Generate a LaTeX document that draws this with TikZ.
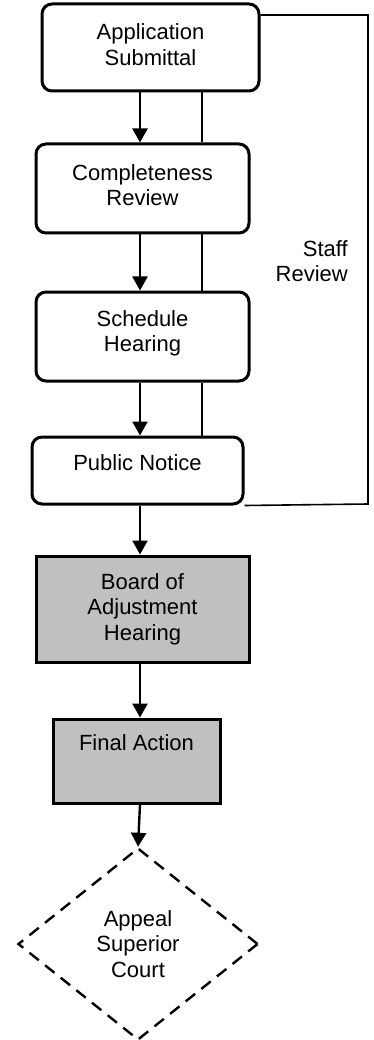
\documentclass[tikz,border=0pt]{standalone}
\usepackage{fontspec}
\setmainfont{Liberation Sans}
\usetikzlibrary{arrows.meta,shapes.geometric}
\definecolor{boxgray}{RGB}{192,192,192}
\begin{document}
\begin{tikzpicture}[x=1pt,y=-1pt,
  every node/.style={font=\fontsize{22pt}{25.5pt}\selectfont, align=center, inner sep=0pt},
  stepbox/.style={draw, line width=3pt, rounded corners=10pt, fill=white},
  boardbox/.style={draw, line width=3pt, fill=boxgray},
  flow/.style={line width=2.4pt, -{Triangle[length=14pt,width=15pt]}},
  loopline/.style={line width=1.6pt},
  appeal/.style={draw, shape=diamond, dash pattern=on 12pt off 8pt, line width=2.4pt,
                 minimum width=240pt, minimum height=192pt}]
\useasboundingbox (0,0) rectangle (374,1040);

% staff review steps
\node[stepbox, minimum width=217pt, minimum height=87pt] (submit) at (150.5,47.5) {Application\\Submittal\\[-27pt]\strut};
\node[stepbox, minimum width=213pt, minimum height=89pt] (complete) at (142.5,188.5) {Completeness\\Review\\[-26.5pt]\strut};
\node[stepbox, minimum width=213pt, minimum height=89pt] (schedule) at (142.5,336.5) {Schedule\\Hearing\\[-22pt]\strut};
\node[stepbox, minimum width=211pt, minimum height=67pt] (notice) at (137.5,470.5) {Public Notice\\[-18pt]\strut};

% board steps
\node[boardbox, minimum width=213pt, minimum height=106pt] (board) at (142.5,609) {Board of\\Adjustment\\Hearing};
\node[boardbox, minimum width=167pt, minimum height=84pt] (final) at (136.5,761) {Final Action\\[3pt]\strut};

% appeal
\node[appeal] (court) at (138,944) {Appeal\\Superior\\Court};

% staff review label and loop
\node[align=right, anchor=east] (staff) at (348,261) {Staff\\Review};
\coordinate (flowx) at (140,0);
\coordinate (sidex) at (202,0);
\coordinate (looptop) at (368,15);
\coordinate (loopbot) at (368,504);
\draw[loopline] (submit.north east |- looptop) -- (looptop) -- (loopbot) -- (notice.south east);

% side links between staff steps
\draw[loopline] (submit.south -| sidex) -- (complete.north -| sidex);
\draw[loopline] (complete.south -| sidex) -- (schedule.north -| sidex);
\draw[loopline] (schedule.south -| sidex) -- (notice.north -| sidex);

% main flow arrows
\draw[flow] (submit.south -| flowx) -- (complete.north -| flowx);
\draw[flow] (complete.south -| flowx) -- (schedule.north -| flowx);
\draw[flow] (schedule.south -| flowx) -- (notice.north -| flowx);
\draw[flow] (notice.south -| flowx) -- (board.north -| flowx);
\draw[flow] (board.south -| flowx) -- (final.north -| flowx);
\draw[flow] (final.south -| flowx) -- (court.north);
\end{tikzpicture}
\end{document}
